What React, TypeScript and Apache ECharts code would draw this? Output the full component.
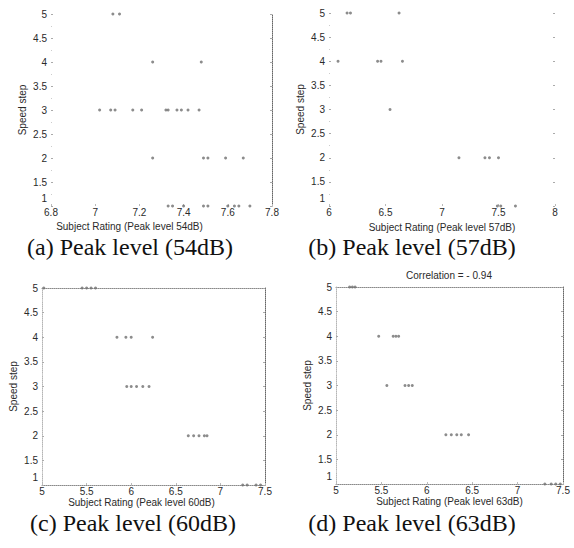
import React, { useEffect, useRef } from "react";
import * as echarts from "echarts";

// ---- data (Subject rating vs speed step) ----
const speedTicks = [1, 1.5, 2, 2.5, 3, 3.5, 4, 4.5, 5];

const rating54Step5 = [7.08, 7.11];
const rating54Step4 = [7.26, 7.48];
const rating54Step3 = [7.02, 7.07, 7.09, 7.17, 7.21, 7.32, 7.33, 7.37, 7.39, 7.42, 7.47];
const rating54Step2 = [7.26, 7.49, 7.51, 7.59, 7.67];
const rating54Step1 = [7.33, 7.35, 7.4, 7.49, 7.51, 7.6, 7.63, 7.65, 7.7];

const rating57Step5 = [6.16, 6.19, 6.62];
const rating57Step4 = [6.08, 6.43, 6.46, 6.65];
const rating57Step3 = [6.54];
const rating57Step2 = [7.15, 7.38, 7.42, 7.5];
const rating57Step1 = [7.49, 7.52, 7.65];

const rating60Step5 = [5.02, 5.45, 5.5, 5.55, 5.6];
const rating60Step4 = [5.84, 5.94, 6.0, 6.24];
const rating60Step3 = [5.95, 6.0, 6.06, 6.13, 6.2];
const rating60Step2 = [6.64, 6.7, 6.76, 6.82, 6.85];
const rating60Step1 = [7.25, 7.3, 7.4, 7.45];

const rating63Step5 = [5.15, 5.18, 5.21];
const rating63Step4 = [5.47, 5.63, 5.66, 5.69];
const rating63Step3 = [5.56, 5.76, 5.8, 5.84];
const rating63Step2 = [6.21, 6.27, 6.33, 6.38, 6.46];
const rating63Step1 = [7.3, 7.37, 7.42, 7.47];

const correlationText = "Correlation = - 0.94";

const captions = [
  "(a) Peak level (54dB)",
  "(b) Peak level (57dB)",
  "(c) Peak level (60dB)",
  "(d) Peak level (63dB)",
];
const xNames = [
  "Subject Rating (Peak level 54dB)",
  "Subject Rating (Peak level 57dB)",
  "Subject Rating (Peak level 60dB)",
  "Subject Rating (Peak level 63dB)",
];
const xMins = [6.8, 6, 5, 5];
const xMaxs = [7.8, 8, 7.5, 7.5];
const xSteps = [0.2, 0.5, 0.5, 0.5];

function pairs(steps: number[][]): number[][] {
  const out: number[][] = [];
  steps.forEach((vals, i) => {
    const step = 5 - i;
    vals.forEach((v) => out.push([v, step]));
  });
  return out;
}

const panelData = [
  pairs([rating54Step5, rating54Step4, rating54Step3, rating54Step2, rating54Step1]),
  pairs([rating57Step5, rating57Step4, rating57Step3, rating57Step2, rating57Step1]),
  pairs([rating60Step5, rating60Step4, rating60Step3, rating60Step2, rating60Step1]),
  pairs([rating63Step5, rating63Step4, rating63Step3, rating63Step2, rating63Step1]),
];

// ---- layout ----
const grids = [
  { left: 51, top: 14, width: 221, height: 192 },
  { left: 329, top: 13, width: 226, height: 193 },
  { left: 42, top: 288, width: 223, height: 197 },
  { left: 336, top: 287, width: 227, height: 197 },
];
// which borders are visible in the scan: [bottom, top, left, right]
const borders = [
  [false, false, false, true],
  [false, false, false, false],
  [true, true, true, true],
  [true, true, true, true],
];
const xNamePadRight = [64, 0, 24, 0];
const xNameGap = [15, 16, 12, 12];
const captionPos = [
  [130, 247],
  [412, 247],
  [133, 523],
  [412, 523],
];

const FONT = "'Liberation Sans', Arial, sans-serif";
const labelColor = "#2a2a2a";
const dotColor = "#8a8a8a";

export default function App() {
  const ref = useRef<HTMLDivElement>(null);
  useEffect(() => {
    if (!ref.current) return;
    const chart = echarts.init(ref.current, undefined, { renderer: "svg" });
    const xAxis: any[] = [];
    const yAxis: any[] = [];
    const series: any[] = [];
    grids.forEach((g, i) => {
      const b = borders[i];
      xAxis.push({
        type: "value",
        gridIndex: i,
        position: "bottom",
        min: xMins[i],
        max: xMaxs[i],
        interval: xSteps[i],
        name: xNames[i],
        nameLocation: "middle",
        nameGap: xNameGap[i],
        nameTextStyle: {
          fontFamily: FONT,
          fontSize: 10,
          color: labelColor,
          padding: [0, xNamePadRight[i], 0, 0],
        },
        axisLine: {
          show: b[0],
          lineStyle: { color: dotColor, type: "dotted", width: 1 },
        },
        axisTick: { show: true, inside: true, length: 2, lineStyle: { color: "#bbb" } },
        axisLabel: { margin: 1, fontFamily: FONT, fontSize: 10, color: labelColor },
        splitLine: { show: false },
      });
      xAxis.push({
        type: "value",
        gridIndex: i,
        position: "top",
        min: xMins[i],
        max: xMaxs[i],
        interval: xSteps[i],
        axisLine: {
          show: b[1],
          lineStyle: { color: dotColor, type: "dotted", width: 1 },
        },
        axisTick: { show: false },
        axisLabel: { show: false },
        splitLine: { show: false },
      });
      yAxis.push({
        type: "value",
        gridIndex: i,
        position: "left",
        min: speedTicks[0],
        max: speedTicks[speedTicks.length - 1],
        interval: 0.5,
        name: "Speed step",
        nameLocation: "middle",
        nameGap: 24,
        nameTextStyle: { fontFamily: FONT, fontSize: 10, color: labelColor },
        axisLine: {
          show: b[2],
          lineStyle: { color: "#b5b5b5", type: "dotted", width: 1 },
        },
        axisTick: { show: true, inside: true, length: 2, lineStyle: { color: "#aaa" } },
        minorTick: { show: true, splitNumber: 2, length: 1, lineStyle: { color: "#ccc" } },
        axisLabel: {
          margin: 4,
          fontFamily: FONT,
          fontSize: 10,
          color: labelColor,
          formatter: (v: number) => (v === speedTicks[0] ? `{up|${v}}` : `${v}`),
          rich: {
            up: {
              fontFamily: FONT,
              fontSize: 10,
              color: labelColor,
              padding: [0, 0, 16, 0],
            },
          },
        },
        splitLine: { show: false },
      });
      yAxis.push({
        type: "value",
        gridIndex: i,
        position: "right",
        min: speedTicks[0],
        max: speedTicks[speedTicks.length - 1],
        interval: 0.5,
        axisLine: {
          show: b[3],
          lineStyle: { color: "#666", type: "dotted", width: 1 },
        },
        axisTick: { show: true, inside: true, length: 2, lineStyle: { color: "#aaa" } },
        axisLabel: { show: false },
        splitLine: { show: false },
      });
      series.push({
        type: "scatter",
        xAxisIndex: 2 * i,
        yAxisIndex: 2 * i,
        data: panelData[i],
        symbol: "circle",
        symbolSize: 3,
        itemStyle: { color: "#6f6f6f" },
        silent: true,
      });
    });

    const graphic: any[] = captions.map((c, i) => ({
      type: "text",
      x: captionPos[i][0],
      y: captionPos[i][1],
      style: {
        text: c,
        fill: "#111",
        font: "24px 'Liberation Serif', 'Times New Roman', serif",
        textAlign: "center",
        textVerticalAlign: "middle",
      },
    }));
    graphic.push({
      type: "text",
      x: 449,
      y: 275,
      style: {
        text: correlationText,
        fill: labelColor,
        font: `10px ${FONT}`,
        textAlign: "center",
        textVerticalAlign: "middle",
      },
    });

    chart.setOption({
      animation: false,
      backgroundColor: "#ffffff",
      grid: grids.map((g) => ({ ...g, containLabel: false })),
      xAxis,
      yAxis,
      series,
      graphic,
    });
    return () => chart.dispose();
  }, []);
  return (
    <div
      ref={ref}
      style={{ position: "absolute", left: 0, top: 0, width: 574, height: 548 }}
    />
  );
}
